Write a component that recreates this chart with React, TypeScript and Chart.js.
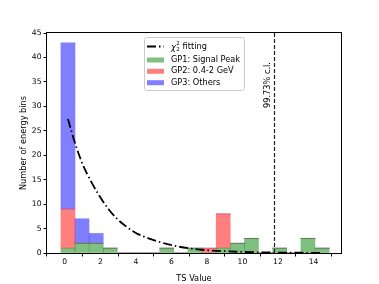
import React, { useEffect, useRef } from "react";
import { Chart, registerables } from "chart.js";

Chart.register(...registerables);

// ---- data ----
const BIN_CENTERS = [0.18, 0.97, 1.77, 2.56, 3.36, 4.15, 4.95, 5.74, 6.54, 7.33, 8.13, 8.92, 9.72, 10.51, 11.31, 12.1, 12.9, 13.69, 14.49];
const GP1_SIGNAL_PEAK = [1, 2, 2, 1, 0, 0, 0, 1, 0, 1, 0, 1, 2, 3, 0, 1, 0, 3, 1];
const GP2_04_2GEV = [8, 0, 0, 0, 0, 0, 0, 0, 0, 0, 1, 7, 0, 0, 0, 0, 0, 0, 0];
const GP3_OTHERS = [34, 5, 2, 0, 0, 0, 0, 0, 0, 0, 0, 0, 0, 0, 0, 0, 0, 0, 0];
const FIT_X = [0.18, 0.55, 1.0, 1.5, 2.0, 2.5, 3.0, 3.5, 4.0, 4.8, 5.9, 7.0, 8.1, 9.2, 10.5, 12.0, 13.3, 14.49];
const FIT_Y = [27.4, 22.8, 18.2, 14.5, 11.4, 8.8, 6.8, 5.3, 4.1, 2.9, 1.7, 0.95, 0.55, 0.33, 0.17, 0.08, 0.05, 0.03];
const X_TICKS = [0, 2, 4, 6, 8, 10, 12, 14];
const Y_TICKS = [0, 5, 10, 15, 20, 25, 30, 35, 40, 45];
const CL_X = 11.8;
const CL_LABEL = "99.73% c.l.";
const LABELS = {
  fit: "fitting",
  gp1: "GP1: Signal Peak",
  gp2: "GP2: 0.4-2 GeV",
  gp3: "GP3: Others",
};

const FONT = "'DejaVu Sans', Verdana, sans-serif";
const GREEN = "rgba(0,128,0,0.5)";
const RED = "rgba(255,0,0,0.5)";
const BLUE = "rgba(0,0,255,0.5)";
const FIT_DASH = [9, 3, 1.5, 3];

const overlayPlugin = {
  id: "overlay",
  afterDatasetsDraw(chart: any) {
    const { ctx, chartArea, scales } = chart;
    const { left, right, top, bottom } = chartArea;
    ctx.save();
    // confidence-level line
    const x = Math.round(scales.x.getPixelForValue(CL_X)) + 0.5;
    ctx.strokeStyle = "#222";
    ctx.lineWidth = 1.2;
    ctx.setLineDash([4, 2]);
    ctx.beginPath();
    ctx.moveTo(x, bottom);
    ctx.lineTo(x, top);
    ctx.stroke();
    ctx.setLineDash([]);
    // label
    ctx.save();
    ctx.translate(x - 6.5, top + 52);
    ctx.rotate(-Math.PI / 2);
    ctx.fillStyle = "#000";
    ctx.font = `8.2px ${FONT}`;
    ctx.textAlign = "center";
    ctx.textBaseline = "middle";
    ctx.fillText(CL_LABEL, 0, 0);
    ctx.restore();

    // frame
    ctx.strokeStyle = "#000";
    ctx.lineWidth = 1;
    ctx.strokeRect(Math.round(left) - 0.5, Math.round(top) - 0.5, Math.round(right - left) + 1, Math.round(bottom - top) + 1);

    // legend
    const lx = 144, ly = 37, lw = 100, lh = 53;
    ctx.fillStyle = "rgba(255,255,255,0.8)";
    ctx.strokeStyle = "#cccccc";
    ctx.lineWidth = 1;
    ctx.beginPath();
    if ((ctx as any).roundRect) (ctx as any).roundRect(lx + 0.5, ly + 0.5, lw, lh, 2);
    else ctx.rect(lx + 0.5, ly + 0.5, lw, lh);
    ctx.fill();
    ctx.stroke();

    const hx0 = 147, hx1 = 164, tx = 171;
    const rows = [46.5, 60, 71.3, 82.7];
    // fit line handle
    ctx.strokeStyle = "#000";
    ctx.lineWidth = 1.8;
    ctx.setLineDash(FIT_DASH);
    ctx.beginPath();
    ctx.moveTo(hx0, rows[0]);
    ctx.lineTo(hx1, rows[0]);
    ctx.stroke();
    ctx.setLineDash([]);
    ctx.fillStyle = "#000";
    ctx.textBaseline = "middle";
    ctx.textAlign = "left";
    ctx.font = `italic 8.2px ${FONT}`;
    ctx.fillText("χ", tx, rows[0] + 1);
    const cw = ctx.measureText("χ").width;
    ctx.font = `5.6px ${FONT}`;
    ctx.fillText("2", tx + cw + 0.3, rows[0] - 3);
    ctx.fillText("2", tx + cw + 0.3, rows[0] + 3.5);
    const sw = ctx.measureText("2").width;
    ctx.font = `8.2px ${FONT}`;
    ctx.fillText(" " + LABELS.fit, tx + cw + sw + 0.6, rows[0]);

    const patches = [
      [GREEN, LABELS.gp1],
      [RED, LABELS.gp2],
      [BLUE, LABELS.gp3],
    ];
    patches.forEach(([c, t], i) => {
      const y = rows[i + 1];
      ctx.fillStyle = c;
      ctx.fillRect(hx0, y - 2.5, hx1 - hx0, 5);
      ctx.fillStyle = "#000";
      ctx.font = `8.2px ${FONT}`;
      ctx.fillText(t, tx, y);
    });
    ctx.restore();
  },
};

export default function App() {
  const ref = useRef<HTMLCanvasElement | null>(null);

  useEffect(() => {
    document.body.style.margin = "0";
    const canvas = ref.current;
    if (!canvas) return;
    const bar = (label: string, vals: number[], color: string) => ({
      type: "bar" as const,
      label,
      data: BIN_CENTERS.map((x, i) => ({ x, y: vals[i] })),
      backgroundColor: color,
      borderWidth: 0,
      barPercentage: 1,
      categoryPercentage: 1,
      order: 1,
    });
    const chart = new Chart(canvas, {
      type: "bar",
      data: {
        datasets: [
          bar(LABELS.gp1, GP1_SIGNAL_PEAK, GREEN),
          bar(LABELS.gp2, GP2_04_2GEV, RED),
          bar(LABELS.gp3, GP3_OTHERS, BLUE),
          {
            type: "line" as const,
            label: LABELS.fit,
            data: FIT_X.map((x, i) => ({ x, y: FIT_Y[i] })),
            borderColor: "#000",
            borderWidth: 1.8,
            borderDash: FIT_DASH,
            pointRadius: 0,
            fill: false,
            cubicInterpolationMode: "monotone",
            stack: "fit",
            order: 0,
          } as any,
        ],
      },
      options: {
        responsive: false,
        devicePixelRatio: 1,
        animation: false,
        layout: { padding: { left: 0, top: 33, right: 38, bottom: 0 } },
        plugins: { legend: { display: false }, tooltip: { enabled: false } },
        scales: {
          x: {
            type: "linear",
            stacked: true,
            min: -1.0,
            max: 15.55,
            offset: false,
            afterFit: (s: any) => {
              s.height = 31;
            },
            afterBuildTicks: (s: any) => {
              s.ticks = X_TICKS.map((v) => ({ value: v }));
            },
            grid: { display: true, drawOnChartArea: false, drawTicks: true, tickLength: 3.5, color: "#000", tickColor: "#000" },
            border: { display: false },
            ticks: { color: "#000", font: { family: FONT, size: 7.6 }, padding: 1, maxRotation: 0, autoSkip: false },
            title: { display: true, text: "TS Value", color: "#000", font: { family: FONT, size: 8.2 }, padding: { top: 6, bottom: 0 } },
          },
          y: {
            type: "linear",
            stacked: true,
            min: 0,
            max: 45,
            afterFit: (s: any) => {
              s.width = 47;
            },
            afterBuildTicks: (s: any) => {
              s.ticks = Y_TICKS.map((v) => ({ value: v }));
            },
            grid: { display: true, drawOnChartArea: false, drawTicks: true, tickLength: 3.5, color: "#000", tickColor: "#000" },
            border: { display: false },
            ticks: { color: "#000", font: { family: FONT, size: 7.6 }, padding: 2, autoSkip: false },
            title: { display: true, text: "Number of energy bins", color: "#000", font: { family: FONT, size: 8.2 }, padding: { top: 18.5, bottom: 0 } },
          },
        },
      },
      plugins: [overlayPlugin],
    });
    return () => chart.destroy();
  }, []);

  return (
    <div style={{ width: 379, height: 284, position: "relative" }}>
      <canvas ref={ref} width={379} height={284} style={{ display: "block" }} />
    </div>
  );
}
